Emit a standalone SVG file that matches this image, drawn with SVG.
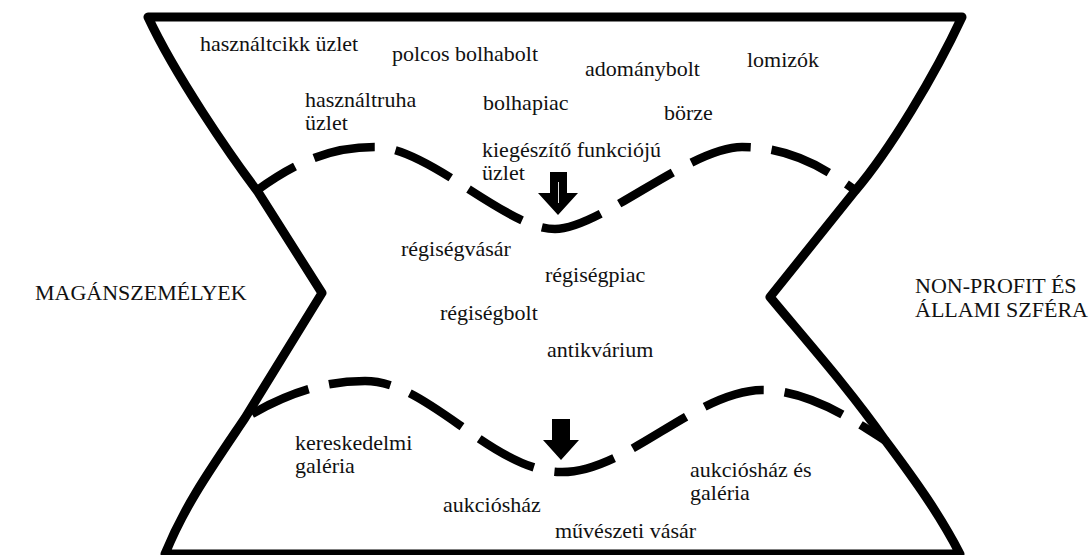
<svg xmlns="http://www.w3.org/2000/svg" width="1089" height="555" viewBox="0 0 1089 555">
<style>
.o{fill:none;stroke:#000;stroke-width:9;stroke-linejoin:round}
.d{fill:none;stroke:#000;stroke-width:8.5;stroke-dasharray:62 21}
.t{font-family:"Liberation Serif","Times New Roman",serif;font-size:22px;fill:#111}
.a{fill:#000}
</style>
<rect width="1089" height="555" fill="#fff"/>
<g id="outline">
<path class="o" d="M148,17 L962,17 C935,75 890,150 855,191 L770,297 C810,345 850,390 885,440 C915,480 940,515 960,554 L165,554 C185,505 210,470 245,418 L322,293 L258,192 C230,155 175,75 148,17 Z"/>
</g>
<g id="connectors">
<path class="d" stroke-dashoffset="16" d="M256,191 C296,162 330,147 375,147 C430,147 505,229 555,229 C600,229 690,147 742,147 C790,147 825,168 856,191"/>
<path class="d" stroke-dashoffset="-8" d="M245,418 C282,396 320,381 365,381 C430,381 490,470 560,472 C625,474 695,391 762,390 C812,390 860,425 886,441"/>
<polygon class="a" points="550,172 567,172 567,193 578,193 558,215 538,193 550,193"/>
<line x1="558.5" y1="182" x2="558.5" y2="203" stroke="#ddd" stroke-width="1"/>
<polygon class="a" points="552,419 570,419 570,440 579,440 561,460 543,440 552,440"/>
</g>
<g id="n1"><text class="t" x="200" y="51">használtcikk üzlet</text></g>
<g id="n2"><text class="t" x="392" y="61">polcos bolhabolt</text></g>
<g id="n3"><text class="t" x="585" y="76">adománybolt</text></g>
<g id="n4"><text class="t" x="747" y="67">lomizók</text></g>
<g id="n5"><text class="t" x="305" y="107">használtruha</text><text class="t" x="305" y="130">üzlet</text></g>
<g id="n6"><text class="t" x="483" y="110">bolhapiac</text></g>
<g id="n7"><text class="t" x="664" y="120">börze</text></g>
<g id="n8"><text class="t" x="482" y="157">kiegészítő funkciójú</text><text class="t" x="482" y="180">üzlet</text></g>
<g id="n9"><text class="t" x="401" y="256">régiségvásár</text></g>
<g id="n10"><text class="t" x="545" y="282">régiségpiac</text></g>
<g id="n11"><text class="t" x="440" y="320">régiségbolt</text></g>
<g id="n12"><text class="t" x="547" y="357">antikvárium</text></g>
<g id="n13"><text class="t" x="35" y="300">MAGÁNSZEMÉLYEK</text></g>
<g id="n14"><text class="t" x="915" y="293">NON-PROFIT ÉS</text><text class="t" x="915" y="317">ÁLLAMI SZFÉRA</text></g>
<g id="n15"><text class="t" x="295" y="450">kereskedelmi</text><text class="t" x="295" y="473">galéria</text></g>
<g id="n16"><text class="t" x="443" y="512">aukciósház</text></g>
<g id="n17"><text class="t" x="690" y="477">aukciósház és</text><text class="t" x="690" y="500">galéria</text></g>
<g id="n18"><text class="t" x="555" y="538">művészeti vásár</text></g>
</svg>
